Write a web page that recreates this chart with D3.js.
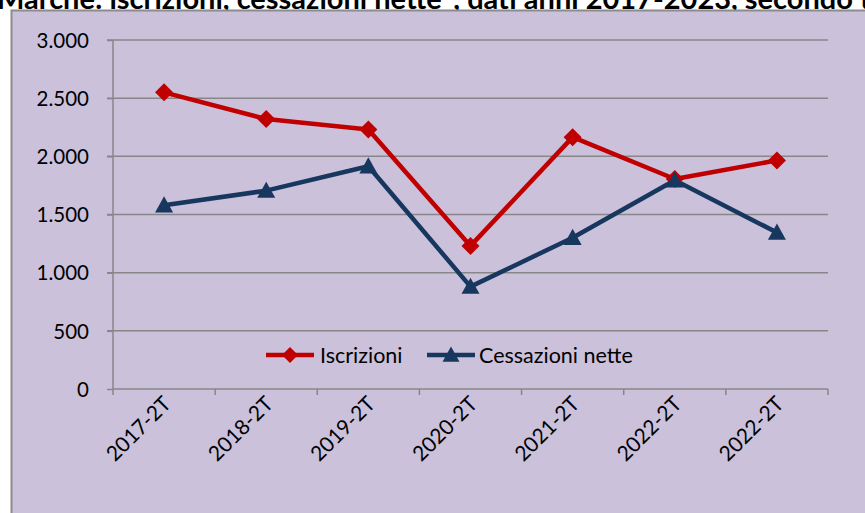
<!DOCTYPE html>
<html><head><meta charset="utf-8">
<script src="https://cdn.jsdelivr.net/npm/d3@7"></script>
<style>body{margin:0;background:#fff;overflow:hidden}svg{display:block}</style>
</head><body>
<svg id="c" width="865" height="513"></svg>
<script>
const categories = ["2017-2T","2018-2T","2019-2T","2020-2T","2021-2T","2022-2T","2022-2T"];
const iscrizioni = [2550, 2320, 2230, 1230, 2165, 1805, 1965];
const cessazioni = [1580, 1705, 1915, 880, 1300, 1795, 1345];
const yTicks = [0, 500, 1000, 1500, 2000, 2500, 3000];
const seriesNames = ["Iscrizioni", "Cessazioni nette"];
const titleText = "Marche: iscrizioni, cessazioni nette*, dati anni 2017-2023, secondo trimestre";

const svg = d3.select("#c");
const font = "Lato, 'Open Sans', sans-serif";

// title (cropped at top, as in the source image)
svg.append("text").attr("x", -3).attr("y", 9).attr("font-family", font)
  .attr("font-weight", "bold").attr("font-size", 29).attr("fill", "#000").text(titleText);

// chart background
svg.append("rect").attr("x", 11.5).attr("y", 10.5).attr("width", 900).attr("height", 600)
  .attr("fill", "#CBC1DA").attr("stroke", "#8c8c8c").attr("stroke-width", 2);

const pL = 113, pR = 828, pT = 40, pB = 389;
const x = d3.scaleBand().domain(d3.range(categories.length)).range([pL, pR]);
const y = d3.scaleLinear().domain([0, 3000]).range([pB, pT]);

const fmt = d => d3.format(",")(d).replace(/,/g, ".");

// gridlines
svg.append("g").selectAll("line").data(yTicks.filter(d => d > 0)).join("line")
  .attr("x1", pL - 6).attr("x2", pR).attr("y1", d => y(d)).attr("y2", d => y(d))
  .attr("stroke", "#878787").attr("stroke-width", 1.5);

// y axis
const ya = svg.append("g").attr("transform", `translate(${pL},0)`)
  .call(d3.axisLeft(y).tickValues(yTicks).tickSize(6).tickPadding(18).tickFormat(fmt));
ya.select(".domain").attr("stroke", "#878787").attr("stroke-width", 1.5).attr("d", `M0,${pT}V${pB}`);
ya.selectAll(".tick line").attr("stroke", "#878787").attr("stroke-width", 1.5);
ya.selectAll("text").attr("font-family", font).attr("font-size", 20.5).attr("fill", "#000").attr("dy", "0.35em");

// x axis
const xa = svg.append("g").attr("transform", `translate(0,${pB})`);
xa.append("line").attr("x1", pL).attr("x2", pR).attr("stroke", "#878787").attr("stroke-width", 1.5);
const bounds = d3.range(categories.length + 1).map(i => i < categories.length ? x(i) : x(i - 1) + x.bandwidth());
xa.selectAll(".tk").data(bounds).join("line").attr("class", "tk")
  .attr("x1", d => d).attr("x2", d => d).attr("y1", 0).attr("y2", 6)
  .attr("stroke", "#878787").attr("stroke-width", 1.5);
xa.selectAll(".lbl").data(categories).join("text").attr("class", "lbl")
  .attr("transform", (d, i) => `translate(${x(i) + x.bandwidth() / 2 + 3},${11}) rotate(-45)`)
  .attr("text-anchor", "end").attr("font-family", font).attr("font-size", 21).attr("fill", "#000")
  .attr("dy", "0.35em").text(d => d);

const cx = i => x(i) + x.bandwidth() / 2;
const line = d3.line().x((d, i) => cx(i)).y(d => y(d));

const red = "#C00000", navy = "#17375E";
svg.append("path").datum(iscrizioni).attr("d", line).attr("fill", "none")
  .attr("stroke", red).attr("stroke-width", 4.5).attr("stroke-linejoin", "round");
svg.append("path").datum(cessazioni).attr("d", line).attr("fill", "none")
  .attr("stroke", navy).attr("stroke-width", 4.5).attr("stroke-linejoin", "round");

const dia = s => `M0,${-s}L${s},0L0,${s}L${-s},0Z`;
const tri = s => `M0,${-s}L${s},${s * 0.8}L${-s},${s * 0.8}Z`;

svg.append("g").selectAll("path").data(iscrizioni).join("path")
  .attr("transform", (d, i) => `translate(${cx(i)},${y(d)})`).attr("d", dia(9)).attr("fill", red);
svg.append("g").selectAll("path").data(cessazioni).join("path")
  .attr("transform", (d, i) => `translate(${cx(i)},${y(d)})`).attr("d", tri(9)).attr("fill", navy);

// legend
const lg = svg.append("g").attr("font-family", font).attr("font-size", 21.5);
const items = [
  {name: seriesNames[0], color: red, shape: dia(8), x0: 266, tx: 320},
  {name: seriesNames[1], color: navy, shape: tri(8.5), x0: 427, tx: 479}
];
items.forEach(it => {
  const ly = 355;
  lg.append("line").attr("x1", it.x0).attr("x2", it.x0 + 48).attr("y1", ly).attr("y2", ly)
    .attr("stroke", it.color).attr("stroke-width", 4.5);
  lg.append("path").attr("transform", `translate(${it.x0 + 24},${ly})`).attr("d", it.shape).attr("fill", it.color);
  lg.append("text").attr("x", it.tx).attr("y", ly).attr("dy", "0.35em").attr("fill", "#000").text(it.name);
});
</script>
</body></html>
